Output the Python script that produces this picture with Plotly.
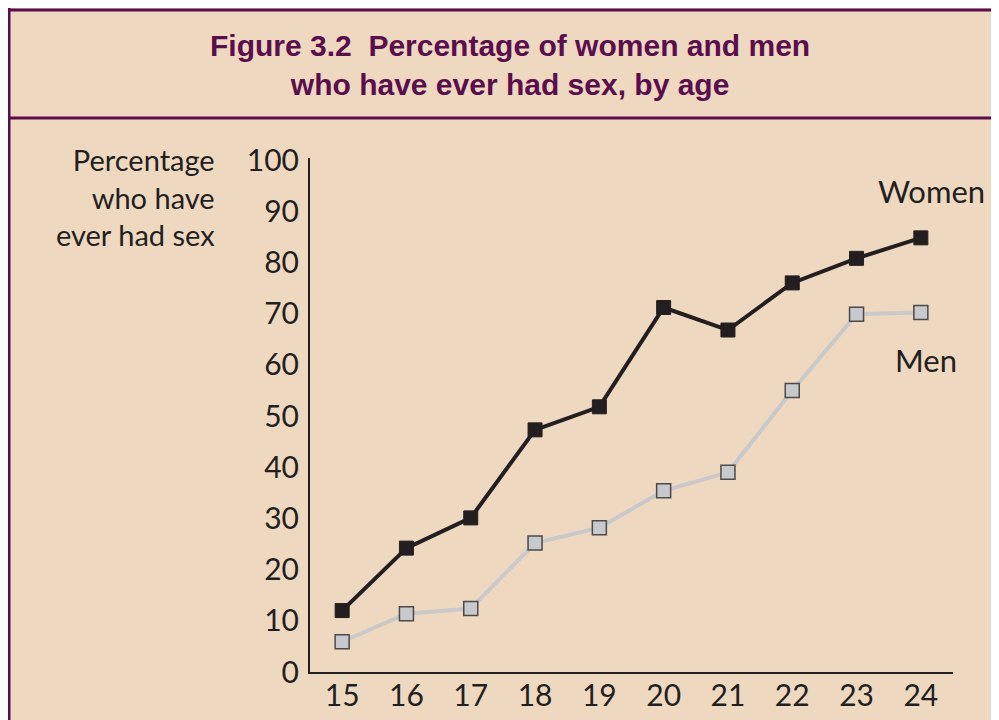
import plotly.graph_objects as go

ages = [15, 16, 17, 18, 19, 20, 21, 22, 23, 24]
women = [12, 24.2, 30.1, 47.3, 51.8, 71.2, 66.8, 76.0, 80.8, 84.8]
men = [5.9, 11.4, 12.4, 25.2, 28.2, 35.4, 39.0, 55.0, 69.9, 70.2]
y_ticks = [0, 10, 20, 30, 40, 50, 60, 70, 80, 90, 100]

BG = "#EFD8C0"
INK = "#231F20"
PURPLE = "#5A0E4E"
TEXT_FONT = "Lato, 'Open Sans', sans-serif"

fig = go.Figure()
fig.add_trace(go.Scatter(
    x=ages, y=men, mode="lines+markers", name="Men",
    line=dict(color="#C9C9C9", width=4),
    marker=dict(symbol="square", size=14, color="#C8C9CC",
                line=dict(color="#4A4A4A", width=1.5)),
    showlegend=False, cliponaxis=False))
fig.add_trace(go.Scatter(
    x=ages, y=women, mode="lines+markers", name="Women",
    line=dict(color=INK, width=4),
    marker=dict(symbol="square", size=14, color=INK,
                line=dict(color=INK, width=1)),
    showlegend=False, cliponaxis=False))

# the page body adds an 8px offset; figure pixels = screen pixels - 8
W, H = 1000, 712
L, R, T, B = 302, 55, 150, 48
pw, ph = W - L - R, H - T - B

def px(x):
    return (x - L) / pw

def py(y):
    return (H - B - y) / ph

fig.update_layout(
    width=W, height=H,
    margin=dict(l=L, r=R, t=T, b=B, autoexpand=False),
    paper_bgcolor=BG, plot_bgcolor=BG,
    xaxis=dict(range=[14.5, 24.5], tickvals=ages, ticktext=[str(a) for a in ages],
               showgrid=False, zeroline=False, showline=True, linecolor=INK, linewidth=2,
               ticks="", automargin=False, ticklabelstandoff=-4,
               tickfont=dict(family=TEXT_FONT, size=30, color=INK),
               fixedrange=True),
    yaxis=dict(range=[0, 100.4], tickvals=y_ticks, ticktext=[str(v) for v in y_ticks],
               showgrid=False, zeroline=False, showline=True, linecolor=INK, linewidth=2,
               ticks="", automargin=False, ticklabelstandoff=3,
               tickfont=dict(family=TEXT_FONT, size=30, color=INK),
               fixedrange=True),
    shapes=[
        dict(type="line", xref="paper", yref="paper", x0=px(0), x1=px(1010), y0=py(2), y1=py(2),
             line=dict(color=PURPLE, width=3)),
        dict(type="line", xref="paper", yref="paper", x0=px(0), x1=px(1010), y0=py(110), y1=py(110),
             line=dict(color=PURPLE, width=3)),
        dict(type="line", xref="paper", yref="paper", x0=px(1), x1=px(1), y0=py(0), y1=py(720),
             line=dict(color=PURPLE, width=3)),
    ],
    annotations=[
        dict(xref="paper", yref="paper", x=px(502), y=py(57), xanchor="center", yanchor="middle",
             text="<b>Figure 3.2  Percentage of women and men<br>who have ever had sex, by age</b>",
             showarrow=False, align="center",
             font=dict(family="'Liberation Sans Narrow', 'Arial Narrow', sans-serif", size=30, color=PURPLE)),
        dict(xref="paper", yref="paper", x=px(209), y=py(189), xanchor="right", yanchor="middle",
             text="Percentage<br>who have<br>ever had sex", showarrow=False, align="right",
             font=dict(family=TEXT_FONT, size=29, color=INK)),
        dict(xref="x", yref="y", x=24.16, y=94, xanchor="center", yanchor="middle",
             text="Women", showarrow=False,
             font=dict(family=TEXT_FONT, size=31, color=INK)),
        dict(xref="x", yref="y", x=24.08, y=61, xanchor="center", yanchor="middle",
             text="Men", showarrow=False,
             font=dict(family=TEXT_FONT, size=31, color=INK)),
    ],
)

fig.write_html("out.html")
